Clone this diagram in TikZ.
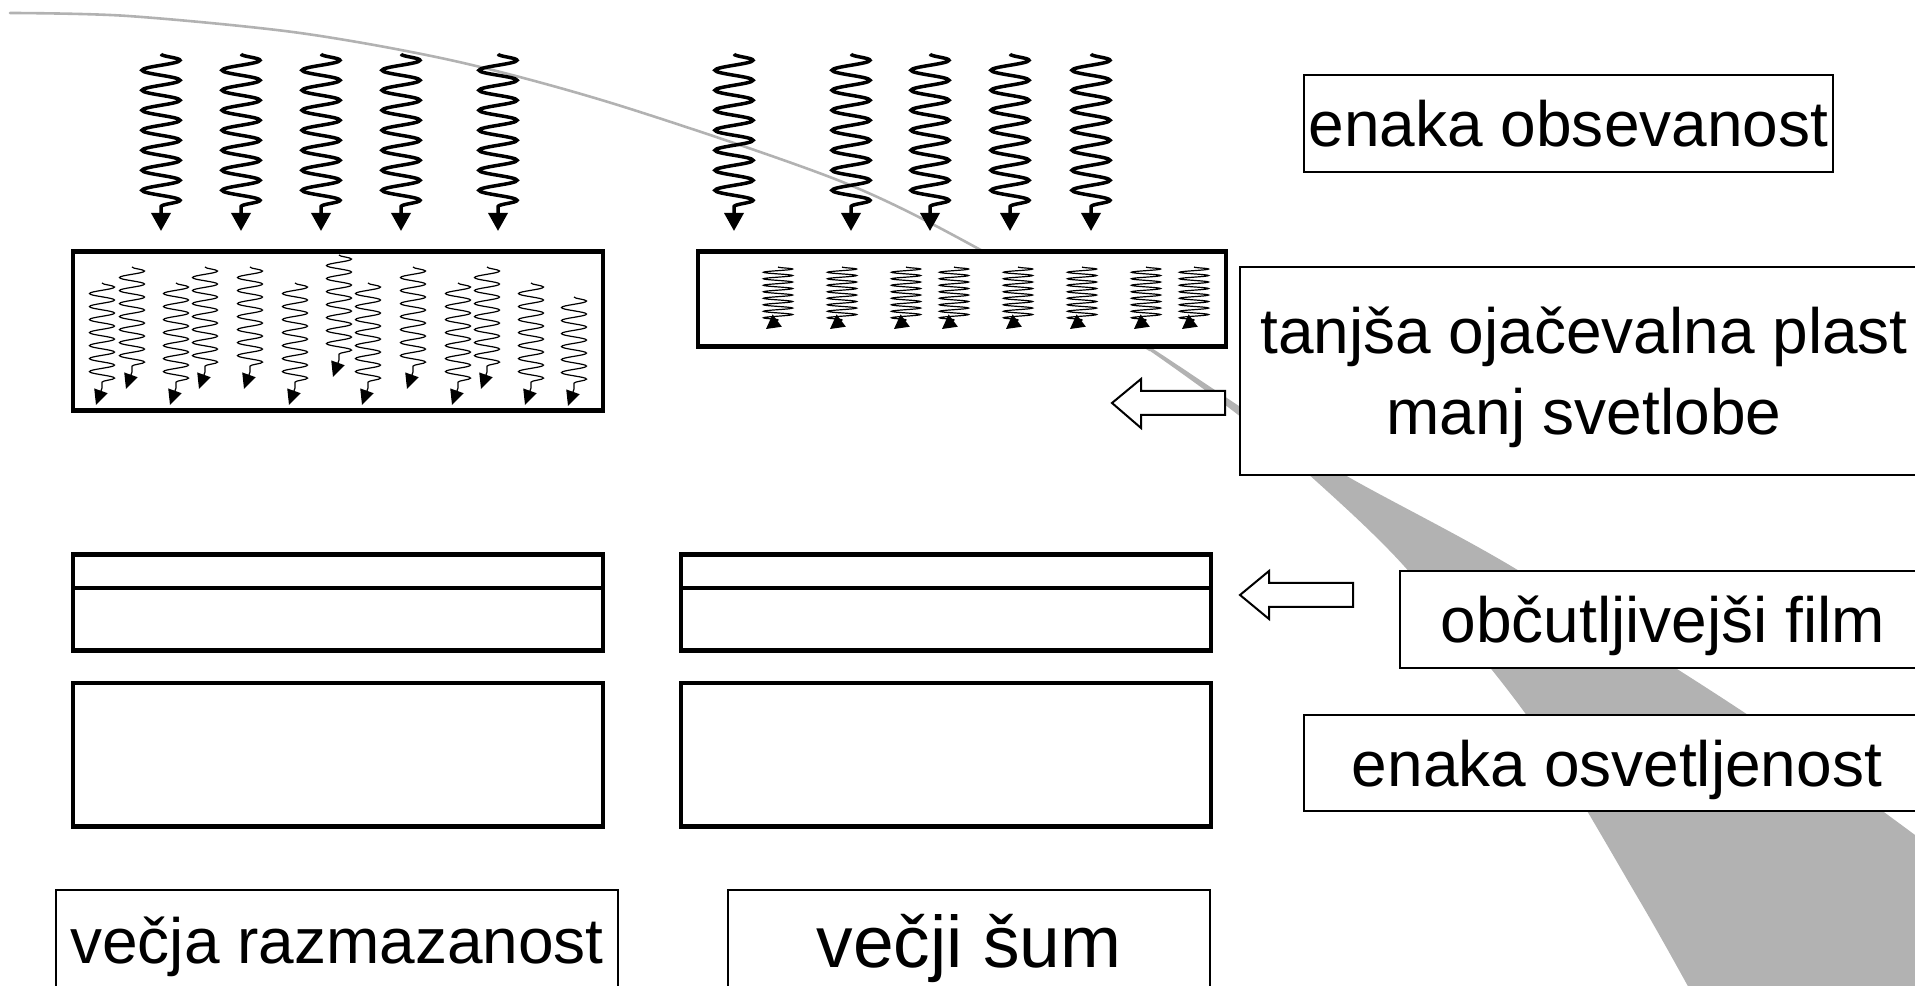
\documentclass[tikz,border=0pt]{standalone}
\usepackage{fontspec}
\setmainfont{Liberation Sans}
\usetikzlibrary{decorations.pathmorphing,arrows.meta}
\definecolor{swoosh}{RGB}{178,178,178}

\begin{document}
\begin{tikzpicture}[
    x=0.01cm, y=-0.01cm,
    labelbox/.style={
        rectangle,
        draw,
        fill=white,
        line width=0.02cm,
        align=center,
        inner sep=0pt,
        text height=0.46cm,
        text depth=0pt,
        font=\fontsize{18.2}{22.8}\selectfont,
    },
    layerbox/.style={
        rectangle,
        draw,
        fill=white,
        line width=0.045cm,
        inner sep=0pt,
        minimum width=5.3cm,
    },
    bigray/.style={
        line width=0.035cm,
        decoration={snake, amplitude=0.19cm, segment length=0.2cm},
        -{Triangle[length=0.18cm,width=0.19cm]},
    },
    thinray/.style={
        line width=0.012cm,
        decoration={snake, amplitude=0.125cm, segment length=0.13cm},
        -{Triangle[length=0.15cm,width=0.14cm]},
    },
    squeezedray/.style={
        line width=0.012cm,
        decoration={snake, amplitude=0.145cm, segment length=0.065cm},
        -{Triangle[length=0.14cm,width=0.15cm]},
    },
    hollowarrow/.style={draw, fill=white, line width=0.02cm},
]

\useasboundingbox (0,0) rectangle (1915,986);
\clip (0,0) rectangle (1915,986);

\draw[swoosh, line width=0.026cm, line cap=round] plot[smooth] coordinates {(10,13) (128,16) (300,33) (459,62) (621,106) (840,181) (977,248) (1150,350)};
\fill[swoosh] plot[smooth] coordinates {(1100,320) (1150,351) (1237,414) (1306,472) (1404,566) (1530,720) (1638,898) (1690,990)}
    -- (1925,995) -- (1925,840)
    -- plot[smooth] coordinates {(1915,835) (1745,713) (1511,566) (1345,475) (1245,410) (1150,347) (1100,318)} -- cycle;

\node[layerbox, minimum height=1.59cm] (screen_thick) at (338,331) {};
\node[layerbox, minimum width=5.28cm, minimum height=0.95cm] (screen_thin) at (962,299) {};
\node[layerbox, minimum height=0.335cm] (emulsion_left) at (338,571.25) {};
\node[layerbox, minimum height=0.625cm] (base_left) at (338,619.25) {};
\node[layerbox, minimum height=0.335cm] (emulsion_right) at (946,571.25) {};
\node[layerbox, minimum height=0.625cm] (base_right) at (946,619.25) {};
\node[layerbox, minimum height=1.435cm] (cassette_left) at (338,754.75) {};
\node[layerbox, minimum height=1.435cm] (cassette_right) at (946,754.75) {};

\foreach \cx in {161,241,321,401,498,734,851,930,1010,1091}
    \draw[bigray] decorate {(\cx,54) -- (\cx,215)} -- (\cx,231);

\foreach \cx/\ytop/\wlen in {102/283/105,132/267/105,176/283/105,205/267/105,250/267/105,295/283/105,339/255/105,368/283/105,413/267/105,458/283/105,487/267/105,531/283/105,574/297/92}
    \draw[thinray] decorate {(\cx,\ytop) -- (\cx,\ytop+\wlen)} -- ++(-6,17);

\foreach \cx in {778,842,906,954,1018,1082,1146,1194}
    \draw[squeezedray] decorate {(\cx,267) -- (\cx,320)} -- ++(-12,9);

\draw[hollowarrow] (1225,391) -- (1141,391) -- (1141,379) -- (1112,403) -- (1141,428) -- (1141,415) -- (1225,415) -- cycle;
\draw[hollowarrow] (1353,583) -- (1269,583) -- (1269,571) -- (1240,595) -- (1269,619) -- (1269,607) -- (1353,607) -- cycle;

\node[labelbox, minimum width=5.29cm, minimum height=0.97cm] (equal_exposure) at (1568.5,123.5) {enaka obsevanost};
\node[labelbox, minimum width=6.88cm, minimum height=2.08cm, text height=1.26cm] (thinner_screen) at (1584,371) {tanjša ojačevalna plast\\manj svetlobe};
\node[labelbox, minimum width=5.26cm, minimum height=0.97cm] (sensitive_film) at (1663,619.5) {občutljivejši film};
\node[labelbox, minimum width=6.26cm, minimum height=0.96cm] (equal_density) at (1617,763) {enaka osvetljenost};
\node[labelbox, minimum width=5.62cm, minimum height=1.0cm] (more_blur) at (337,940) {večja razmazanost};
\node[labelbox, minimum width=4.82cm, minimum height=1.02cm, text height=0.523cm, font=\fontsize{20.8}{25}\selectfont] (more_noise) at (969,941) {večji šum};

\end{tikzpicture}
\end{document}
